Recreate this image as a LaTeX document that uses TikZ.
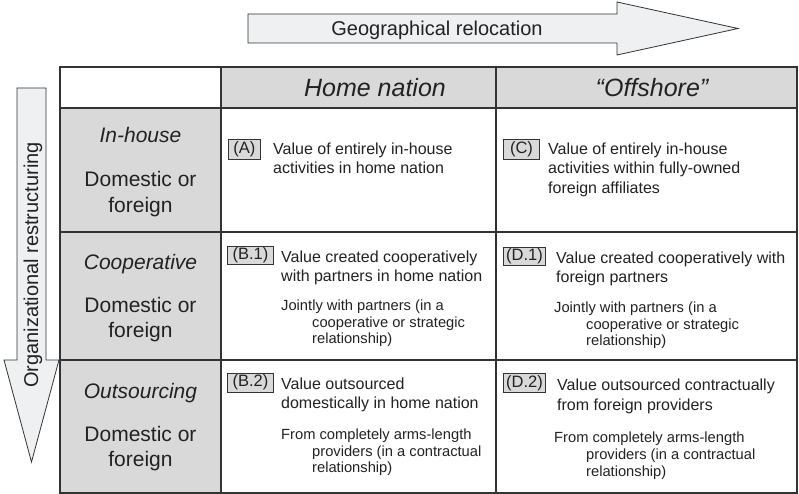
\documentclass[tikz,border=0pt]{standalone}
\usepackage{fontspec}
\setmainfont{Liberation Sans}
\definecolor{cellgray}{HTML}{D9D9D9}
\definecolor{arrowfill}{HTML}{EFF0F2}
\definecolor{linec}{HTML}{333333}
\definecolor{txt}{HTML}{222222}
\begin{document}
\begin{tikzpicture}[x=1pt,y=-1pt,
  grid/.style={draw=linec,line width=1.3pt},
  arrowbox/.style={draw=linec,line width=0.8pt,fill=arrowfill,line join=miter},
  hdr/.style={anchor=base,inner sep=0pt,text=txt,font=\fontsize{25}{30}\selectfont\itshape},
  rowtitle/.style={anchor=base,inner sep=0pt,text=txt,font=\fontsize{21}{25}\selectfont\itshape},
  rowsub/.style={anchor=base,inner sep=0pt,text=txt,font=\fontsize{21}{25}\selectfont},
  arrowtext/.style={anchor=base,inner sep=0pt,text=txt,font=\fontsize{20}{24}\selectfont},
  tag/.style={anchor=west,draw=linec,line width=0.9pt,fill=cellgray,inner sep=0.8pt,
    minimum height=18pt,text=txt,font=\fontsize{16.5}{19}\selectfont},
  maintext/.style={anchor=north west,inner sep=0pt,align=left,text=txt,font=\fontsize{16}{19.5}\selectfont},
  subtext/.style={anchor=north west,inner sep=0pt,align=left,text=txt,font=\fontsize{14.7}{16.8}\selectfont}
]
\useasboundingbox (0,0) rectangle (799,494);
\fill[white] (0,0) rectangle (799,494);

% gray cells
\fill[cellgray] (221,67) rectangle (797,108);
\fill[cellgray] (60,108) rectangle (221,493);

% arrows
\draw[arrowbox] (248,14) -- (617,14) -- (617,2) -- (738,28.5) -- (617,55) -- (617,43) -- (248,43) -- cycle;
\node[arrowtext] (geo) at (437,36) {Geographical relocation};
\draw[arrowbox] (17,88) -- (46,88) -- (46,360) -- (59,360) -- (31.5,462) -- (4,360) -- (17,360) -- cycle;
\node[arrowtext,rotate=90] (org) at (38,265) {Organizational restructuring};

% grid
\draw[grid] (60,67) rectangle (797,493);
\draw[grid] (221,67) -- (221,493);
\draw[grid] (496,67) -- (496,493);
\draw[grid] (60,108) -- (797,108);
\draw[grid] (60,232) -- (797,232);
\draw[grid] (60,360) -- (797,360);

% headers
\node[hdr] (home) at (375,97) {Home nation};
\node[hdr] (off) at (652,97) {“Offshore”};

% row titles
\node[rowtitle] (inh) at (140.5,143) {In-house};
\node[rowsub] (inhA) at (140.5,187) {Domestic or};
\node[rowsub] (inhB) at (140.5,212) {foreign};
\node[rowtitle] (coop) at (140.5,269) {Cooperative};
\node[rowsub] (coopA) at (140.5,312) {Domestic or};
\node[rowsub] (coopB) at (140.5,337) {foreign};
\node[rowtitle] (outs) at (140.5,398) {Outsourcing};
\node[rowsub] (outsA) at (140.5,441) {Domestic or};
\node[rowsub] (outsB) at (140.5,466) {foreign};

% cell A
\node[tag,minimum width=32pt,minimum height=20pt] (tA) at (228,149) {(A)};
\node[maintext] (mA) at (273,142.5) {Value of entirely in-house\\activities in home nation};
% cell C
\node[tag,minimum width=36pt,minimum height=20pt] (tC) at (503,149) {(C)};
\node[maintext] (mC) at (548,142.5) {Value of entirely in-house\\activities within fully-owned\\foreign affiliates};
% cell B.1
\node[tag,minimum width=46pt] (tB1) at (227,255.5) {(B.1)};
\node[maintext] (mB1) at (281,250.4) {Value created cooperatively\\with partners in home nation};
\node[subtext] (sB1) at (281,299.4) {Jointly with partners (in a\\\hspace*{31pt}cooperative or strategic\\\hspace*{31pt}relationship)};
% cell D.1
\node[tag,minimum width=42pt] (tD1) at (503,256.5) {(D.1)};
\node[maintext] (mD1) at (556,251.4) {Value created cooperatively with\\foreign partners};
\node[subtext] (sD1) at (554,301.4) {Jointly with partners (in a\\\hspace*{32pt}cooperative or strategic\\\hspace*{32pt}relationship)};
% cell B.2
\node[tag,minimum width=46pt,minimum height=19pt] (tB2) at (227,382.5) {(B.2)};
\node[maintext] (mB2) at (281,377.4) {Value outsourced\\domestically in home nation};
\node[subtext] (sB2) at (281,428.4) {From completely arms-length\\\hspace*{31pt}providers (in a contractual\\\hspace*{31pt}relationship)};
% cell D.2
\node[tag,minimum width=42pt,minimum height=19pt] (tD2) at (503,383) {(D.2)};
\node[maintext] (mD2) at (557,379) {Value outsourced contractually\\from foreign providers};
\node[subtext] (sD2) at (554,432) {From completely arms-length\\\hspace*{32pt}providers (in a contractual\\\hspace*{32pt}relationship)};
\end{tikzpicture}
\end{document}
